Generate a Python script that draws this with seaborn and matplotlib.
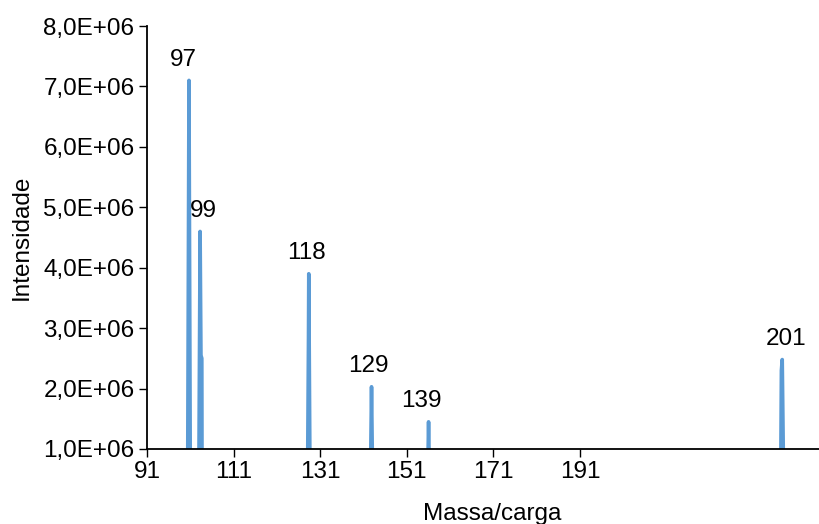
import numpy as np
import pandas as pd
import matplotlib
matplotlib.use("Agg")
import matplotlib.pyplot as plt
import seaborn as sns
from matplotlib.ticker import FuncFormatter, FixedLocator

# Spectrum trace (m/z, intensity); baseline sits below the visible range
mz = [95.0, 96.75, 97.0, 97.25, 98.7, 98.95, 99.1, 99.25, 99.3, 117.75, 117.95, 118.0, 118.25,
      128.75, 129.0, 129.25, 138.75, 139.0, 139.25, 200.7, 200.85, 201.0, 201.3, 203.0]
intensity = [0, 0, 7.1e6, 0, 0, 4.6e6, 2.55e6, 2.5e6, 0, 0, 2.85e6, 3.9e6, 0,
             0, 2.03e6, 0, 0, 1.45e6, 0, 0, 2.3e6, 2.48e6, 0, 0]

# Labelled peaks
peak_mz = [97, 99, 118, 129, 139, 201]
peak_int = [7.1e6, 4.6e6, 3.9e6, 2.03e6, 1.45e6, 2.48e6]

# Category-style x tick labels
x_tick_labels = ["91", "111", "131", "151", "171", "191"]
y_ticks = [1e6, 2e6, 3e6, 4e6, 5e6, 6e6, 7e6, 8e6]

sns.set_theme(style="white")
plt.rcParams["font.family"] = ["Liberation Sans", "DejaVu Sans"]
FS = 17.5

fig = plt.figure(figsize=(8.19, 5.24), dpi=100)
ax = fig.add_axes([147 / 819, 1 - 449 / 524, (837 - 147) / 819, (449 - 26) / 524])

df = pd.DataFrame({"mz": mz, "intensity": intensity})
sns.lineplot(data=df, x="mz", y="intensity", sort=False, estimator=None,
             color="#5B9BD5", linewidth=2.6, ax=ax)

# horizontal nudges (points) for the peak labels
label_dx = [-4, 2.5, -2, -2, -5, 3]
for m, v, dx in zip(peak_mz, peak_int, label_dx):
    ax.annotate(str(m), xy=(m, v), xytext=(dx, 7), textcoords="offset points",
                ha="center", va="bottom", fontsize=FS, color="black")

ax.set_xlim(89.64, 210.6)
ax.set_ylim(1e6, 8e6)

tick_pos = np.linspace(89.64, 165.54, len(x_tick_labels))
ax.xaxis.set_major_locator(FixedLocator(tick_pos))
ax.set_xticklabels(x_tick_labels)
ax.set_yticks(y_ticks)
ax.yaxis.set_major_formatter(FuncFormatter(lambda v, p: f"{v / 1e6:.1f}".replace(".", ",") + "E+06"))

for s in ["top", "right"]:
    ax.spines[s].set_visible(False)
for s in ["left", "bottom"]:
    ax.spines[s].set_color("black")
    ax.spines[s].set_linewidth(1.3)

ax.tick_params(axis="both", which="major", direction="out", length=6, width=1.0,
               color="black", labelsize=FS, labelcolor="black", pad=3,
               left=True, bottom=True)

ax.set_xlabel("Massa/carga", fontsize=FS, color="black", labelpad=14)
ax.set_ylabel("Intensidade", fontsize=FS, color="black", labelpad=8)

fig.savefig("out.png", dpi=100)
